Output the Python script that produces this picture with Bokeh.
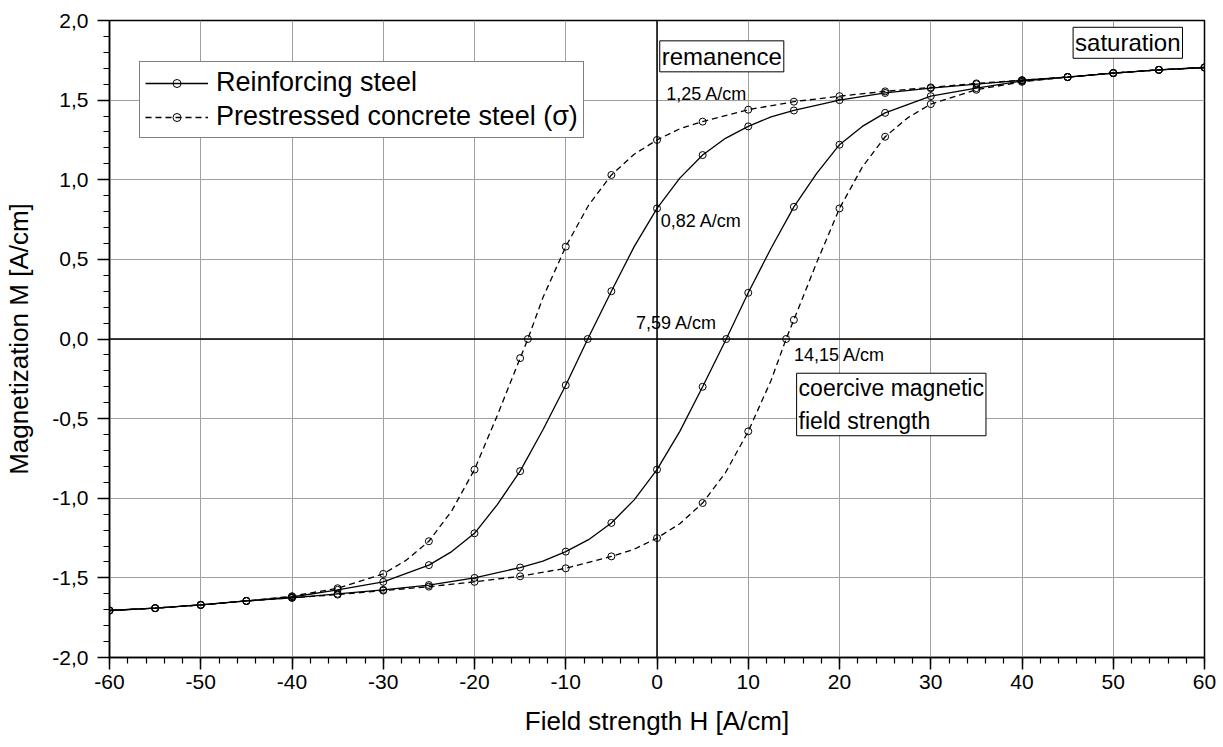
import numpy as np
from bokeh.plotting import figure
from bokeh.models import FixedTicker, Span, Label, Legend, LegendItem
from bokeh.embed import file_html
from bokeh.resources import INLINE

FONT = "Liberation Sans"

# ---------------- data ----------------
x_ticks = [-60, -50, -40, -30, -20, -10, 0, 10, 20, 30, 40, 50, 60]
x_tick_labels = ["-60", "-50", "-40", "-30", "-20", "-10", "0", "10", "20",
                 "30", "40", "50", "60"]
y_ticks = [-2.0, -1.5, -1.0, -0.5, 0.0, 0.5, 1.0, 1.5, 2.0]
y_tick_labels = ["-2,0", "-1,5", "-1,0", "-0,5", "0,0", "0,5", "1,0", "1,5", "2,0"]

# Reinforcing steel, descending (upper) branch
rs_up_H = [60, 55, 50, 45, 40, 35, 30, 25, 20, 15, 12.5, 10, 7.5, 5, 2.5, 0,
           -2.5, -5, -7.59, -10, -12.5, -15, -17.5, -20, -22.5, -25, -30,
           -35, -40, -45, -50, -55, -60]
rs_up_M = [1.705, 1.69, 1.67, 1.645, 1.625, 1.60, 1.575, 1.545, 1.50, 1.435,
           1.395, 1.335, 1.26, 1.155, 1.01, 0.82, 0.58, 0.30, 0.0, -0.29,
           -0.57, -0.83, -1.04, -1.22, -1.335, -1.42, -1.525, -1.575, -1.62,
           -1.645, -1.67, -1.69, -1.705]
# Reinforcing steel, ascending (lower) branch
rs_lo_H = [-60, -55, -50, -45, -40, -35, -30, -25, -20, -15, -12.5, -10, -7.5,
           -5, -2.5, 0, 2.5, 5, 7.59, 10, 12.5, 15, 17.5, 20, 22.5, 25, 30,
           35, 40, 45, 50, 55, 60]
rs_lo_M = [-1.705, -1.69, -1.67, -1.645, -1.625, -1.60, -1.575, -1.545, -1.50,
           -1.435, -1.395, -1.335, -1.26, -1.155, -1.01, -0.82, -0.58, -0.30,
           0.0, 0.29, 0.57, 0.83, 1.04, 1.22, 1.335, 1.42, 1.525, 1.575, 1.62,
           1.645, 1.67, 1.69, 1.705]

# Prestressed concrete steel, descending (upper) branch
ps_up_H = [60, 55, 50, 45, 40, 35, 30, 25, 20, 15, 10, 5, 2.5, 0, -2.5, -5,
           -7.5, -10, -12.5, -14.15, -15, -17.5, -20, -22.5, -25, -27.5, -30,
           -35, -40, -45, -50, -55, -60]
ps_up_M = [1.705, 1.69, 1.67, 1.645, 1.625, 1.605, 1.58, 1.555, 1.525, 1.49,
           1.44, 1.365, 1.32, 1.25, 1.16, 1.03, 0.84, 0.58, 0.26, 0.0, -0.12,
           -0.48, -0.82, -1.08, -1.27, -1.39, -1.475, -1.565, -1.615, -1.645,
           -1.67, -1.69, -1.705]
# Prestressed concrete steel, ascending (lower) branch
ps_lo_H = [-60, -55, -50, -45, -40, -35, -30, -25, -20, -15, -10, -5, -2.5, 0,
           2.5, 5, 7.5, 10, 12.5, 14.15, 15, 17.5, 20, 22.5, 25, 27.5, 30, 35,
           40, 45, 50, 55, 60]
ps_lo_M = [-1.705, -1.69, -1.67, -1.645, -1.625, -1.605, -1.58, -1.555, -1.525,
           -1.49, -1.44, -1.365, -1.32, -1.25, -1.16, -1.03, -0.84, -0.58,
           -0.26, 0.0, 0.12, 0.48, 0.82, 1.08, 1.27, 1.39, 1.475, 1.565, 1.615,
           1.645, 1.67, 1.69, 1.705]

series_names = ["Reinforcing steel", "Prestressed concrete steel (\u03c3)"]

annotations = [
    ("remanence", 0.3, 1.775, True),
    ("saturation", 45.6, 1.86, True),
    ("1,25 A/cm", 1.0, 1.54, False),
    ("0,82 A/cm", 0.4, 0.74, False),
    ("7,59 A/cm", -2.3, 0.10, False),
    ("14,15 A/cm", 15.0, -0.10, False),
]

# ---------------- figure ----------------
p = figure(width=1223, height=747, x_range=(-60, 60), y_range=(-2, 2),
           output_backend="svg", toolbar_location=None,
           min_border_left=109, min_border_right=19,
           min_border_top=20, min_border_bottom=90,
           x_axis_label="Field strength H [A/cm]",
           y_axis_label="Magnetization M [A/cm]")
p.background_fill_color = "white"
p.border_fill_color = "white"
p.outline_line_color = "black"
p.outline_line_width = 1.5

p.xaxis.ticker = FixedTicker(ticks=x_ticks, minor_ticks=list(range(-60, 61, 2)))
p.yaxis.ticker = FixedTicker(ticks=y_ticks,
                             minor_ticks=[round(-2 + 0.1 * i, 1) for i in range(41)])
p.xaxis.major_label_overrides = dict(zip(x_ticks, x_tick_labels))
p.yaxis.major_label_overrides = dict(zip(y_ticks, y_tick_labels))

for ax in (p.xaxis[0], p.yaxis[0]):
    ax.axis_line_color = "black"
    ax.axis_line_width = 1.5
    ax.major_tick_line_color = "black"
    ax.major_tick_line_width = 1.5
    ax.minor_tick_line_color = "black"
    ax.minor_tick_line_width = 1.2
    ax.major_tick_out = 12
    ax.major_tick_in = 0
    ax.minor_tick_out = 6
    ax.minor_tick_in = 0
    ax.major_label_text_font = FONT
    ax.major_label_text_font_size = "21px"
    ax.major_label_text_color = "black"
    ax.axis_label_text_font = FONT
    ax.axis_label_text_font_size = "26px"
    ax.axis_label_text_font_style = "normal"
    ax.axis_label_text_color = "black"
p.xaxis.major_label_standoff = 5
p.yaxis.major_label_standoff = 9
p.xaxis.axis_label_standoff = 14
p.yaxis.axis_label_standoff = 15

for g in (p.xgrid[0], p.ygrid[0]):
    g.grid_line_color = "#a0a0a0"
    g.grid_line_width = 1

p.add_layout(Span(location=0, dimension="height", line_color="black", line_width=1.5))
p.add_layout(Span(location=0, dimension="width", line_color="black", line_width=1.5))


def marker_pts(H, M):
    H = np.asarray(H, dtype=float)
    M = np.asarray(M, dtype=float)
    mask = (np.abs(H % 5) < 1e-9) | (M == 0)
    return H[mask], M[mask]


items = []
for name, branches, dash in [
    (series_names[0], [(rs_up_H, rs_up_M), (rs_lo_H, rs_lo_M)], "solid"),
    (series_names[1], [(ps_up_H, ps_up_M), (ps_lo_H, ps_lo_M)], "6 4"),
]:
    rends = []
    for H, M in branches:
        ln = p.line(H, M, line_color="black", line_width=1.3, line_dash=dash)
        mh, mm = marker_pts(H, M)
        sc = p.scatter(mh, mm, marker="circle", size=7, fill_color=None,
                       line_color="black", line_width=1)
        if not rends:
            rends = [ln, sc]
    items.append(LegendItem(label=name, renderers=rends))

legend = Legend(items=items, location=(30, 519), label_text_font=FONT,
                label_text_font_size="27px", label_text_color="black",
                glyph_width=63, glyph_height=20,
                padding=5, spacing=3, label_standoff=8, margin=0,
                border_line_color="black", border_line_width=1,
                background_fill_color="white", background_fill_alpha=1.0)
p.add_layout(legend)

for text, x, y, boxed in annotations:
    kw = dict(x=x, y=y, text=text, text_align="left", text_baseline="middle",
              text_font=FONT, text_color="black")
    if boxed:
        kw.update(text_font_size="24px", border_line_color="black",
                  border_line_width=1, background_fill_color="white",
                  padding=2)
    else:
        kw.update(text_font_size="18px")
    p.add_layout(Label(**kw))

p.add_layout(Label(x=15.3, y=-0.215, text="coercive magnetic\nfield strength",
                   text_align="left", text_baseline="top", text_font=FONT,
                   text_font_size="23px", text_color="black",
                   border_line_color="black", border_line_width=1,
                   background_fill_color="white", padding=2,
                   text_line_height=1.25))

open("out.html", "w").write(file_html(p, INLINE))
